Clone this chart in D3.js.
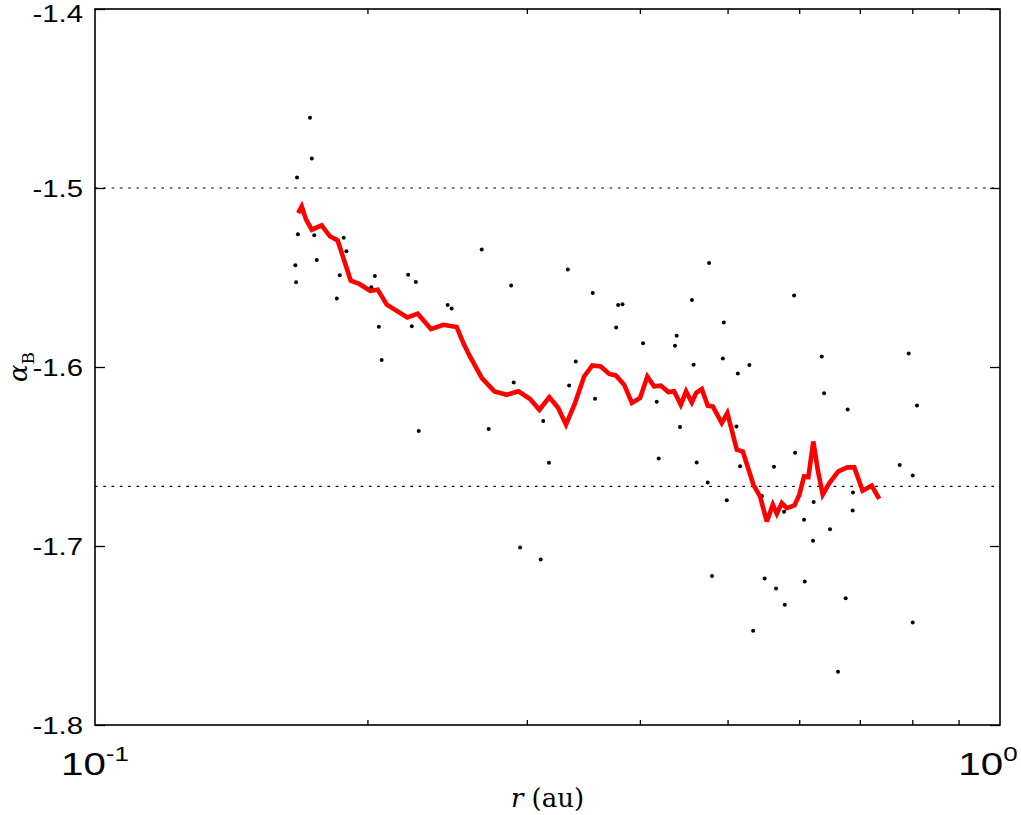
<!DOCTYPE html>
<html>
<head>
<meta charset="utf-8">
<script src="https://cdn.jsdelivr.net/npm/d3@7"></script>
<style>
  html, body { margin: 0; padding: 0; background: #fff; }
  svg { display: block; }
</style>
</head>
<body>
<svg id="chart" width="1021" height="815"></svg>
<script>
// ---- data ----
// scattered individual estimates (r in au, alpha_B)
const rPoints = [0.1728,0.1736,0.1672,0.1676,0.1747,0.1883,0.1896,0.1665,0.1758,0.1668,
  0.1864,0.2038,0.2020,0.2218,0.2262,0.1850,0.2059,0.2239,0.2453,0.2478,
  0.2675,0.2883,0.3330,0.2074,0.2279,0.2723,0.2902,0.3128,0.3174,0.3341,
  0.2949,0.3108,0.3548,0.3785,0.3827,0.3766,0.4033,0.4770,0.4567,0.4952,
  0.4393,0.4374,0.3398,0.3569,0.4586,0.4940,0.5132,0.5285,0.5922,0.4175,
  0.4430,0.5114,0.4196,0.5937,0.6354,0.7927,0.6391,0.6787,0.8096,0.4622,
  0.5162,0.4754,0.4990,0.5627,0.7748,0.8008,0.5457,0.5773,0.6074,0.6225,
  0.6879,0.6874,0.6489,0.6214,0.4806,0.5495,0.6085,0.5656,0.6753,0.5783,
  0.5336,0.8008,0.6622];
const alphaPoints = [-1.4607,-1.4835,-1.4941,-1.5259,-1.5264,-1.5278,-1.5354,-1.5432,-1.5402,-1.5527,
  -1.5488,-1.5492,-1.5555,-1.5484,-1.5525,-1.5617,-1.5775,-1.5773,-1.5654,-1.5673,
  -1.5343,-1.5544,-1.5455,-1.5961,-1.6358,-1.6346,-1.6086,-1.6302,-1.6535,-1.6104,
  -1.7009,-1.7075,-1.5587,-1.5654,-1.5650,-1.5780,-1.5868,-1.5419,-1.5626,-1.5751,
  -1.5825,-1.5881,-1.5969,-1.6177,-1.5987,-1.5952,-1.6037,-1.5989,-1.5600,-1.6194,
  -1.6335,-1.6332,-1.6511,-1.6479,-1.5942,-1.5924,-1.6147,-1.6237,-1.6215,-1.6533,
  -1.6555,-1.6645,-1.6745,-1.6557,-1.6547,-1.6606,-1.6721,-1.6808,-1.6853,-1.6754,
  -1.6701,-1.6801,-1.6907,-1.6970,-1.7168,-1.7181,-1.7198,-1.7237,-1.7292,-1.7328,
  -1.7473,-1.7428,-1.7702];

// running average curve
const rSmooth = [0.1677,0.1692,0.1711,0.1736,0.1780,0.1818,0.1854,0.1917,0.1959,0.2014,
  0.2053,0.2101,0.2214,0.2273,0.2351,0.2426,0.2510,0.2557,0.2596,0.2675,
  0.2763,0.2851,0.2937,0.3025,0.3098,0.3177,0.3250,0.3315,0.3392,0.3471,
  0.3544,0.3621,0.3701,0.3763,0.3843,0.3920,0.4002,0.4077,0.4147,0.4219,
  0.4301,0.4364,0.4439,0.4499,0.4565,0.4615,0.4683,0.4754,0.4815,0.4926,
  0.4997,0.5119,0.5198,0.5340,0.5431,0.5525,0.5610,0.5667,0.5740,0.5813,
  0.5927,0.6002,0.6074,0.6141,0.6219,0.6289,0.6370,0.6478,0.6628,0.6780,
  0.6902,0.7051,0.7214,0.7355];
const alphaSmooth = [-1.5140,-1.5103,-1.5177,-1.5233,-1.5209,-1.5270,-1.5293,-1.5518,-1.5536,-1.5574,
  -1.5568,-1.5652,-1.5723,-1.5702,-1.5788,-1.5764,-1.5777,-1.5875,-1.5941,-1.6061,
  -1.6136,-1.6155,-1.6136,-1.6179,-1.6239,-1.6168,-1.6229,-1.6322,-1.6201,-1.6053,
  -1.5991,-1.5997,-1.6039,-1.6047,-1.6099,-1.6201,-1.6173,-1.6053,-1.6108,-1.6104,
  -1.6140,-1.6136,-1.6211,-1.6136,-1.6198,-1.6145,-1.6123,-1.6216,-1.6220,-1.6313,
  -1.6257,-1.6462,-1.6472,-1.6658,-1.6723,-1.6863,-1.6769,-1.6820,-1.6760,-1.6788,
  -1.6773,-1.6713,-1.6611,-1.6615,-1.6416,-1.6574,-1.6713,-1.6648,-1.6583,-1.6561,
  -1.6561,-1.6691,-1.6663,-1.6737];

// reference levels (dotted lines)
const refLevels = [-1.5, -5/3];

// tick values
const yTicks = [-1.8, -1.7, -1.6, -1.5, -1.4];
const xMinorTicks = [0.2, 0.3, 0.4, 0.5, 0.6, 0.7, 0.8, 0.9];
const xMajorTicks = [0.1, 1];
const xMajorExp = ["-1", "0"];

// ---- layout ----
const L = 95, R = 1000, T = 9, B = 725;
const svg = d3.select("#chart");
const x = d3.scaleLog().domain([0.1, 1]).range([L, R]);
const y = d3.scaleLinear().domain([-1.8, -1.4]).range([B, T]);

// reference dotted lines
svg.selectAll("line.ref").data(refLevels).enter().append("line")
  .attr("class", "ref")
  .attr("x1", L).attr("x2", R)
  .attr("y1", d => y(d)).attr("y2", d => y(d))
  .attr("stroke", "#000").attr("stroke-width", 1.1)
  .attr("stroke-dasharray", "2.6,5.7");

// scatter points
const pts = rPoints.map((r, i) => ({ r, a: alphaPoints[i] }));
svg.append("g").selectAll("circle").data(pts).enter().append("circle")
  .attr("cx", d => x(d.r)).attr("cy", d => y(d.a))
  .attr("r", 2).attr("fill", "#000");

// smooth curve
const curve = rSmooth.map((r, i) => ({ r, a: alphaSmooth[i] }));
svg.append("path").datum(curve)
  .attr("d", d3.line().x(d => x(d.r)).y(d => y(d.a)))
  .attr("fill", "none").attr("stroke", "#ff0000")
  .attr("stroke-width", 4.6).attr("stroke-linejoin", "miter").attr("stroke-miterlimit", 3);

// axes (ticks inward)
function styleAxis(g) {
  g.select(".domain").remove();
  g.selectAll(".tick line").attr("stroke", "#000").attr("stroke-width", 1.3);
}
svg.append("g").attr("transform", `translate(0,${B})`)
  .call(d3.axisBottom(x).tickValues(xMinorTicks).tickSize(-5).tickFormat(""))
  .call(styleAxis);
svg.append("g").attr("transform", `translate(0,${T})`)
  .call(d3.axisTop(x).tickValues(xMinorTicks).tickSize(-5).tickFormat(""))
  .call(styleAxis);
svg.append("g").attr("transform", `translate(${L},0)`)
  .call(d3.axisLeft(y).tickValues(yTicks).tickSize(-10).tickFormat(""))
  .call(styleAxis);
svg.append("g").attr("transform", `translate(${R},0)`)
  .call(d3.axisRight(y).tickValues(yTicks).tickSize(-10).tickFormat(""))
  .call(styleAxis);

// frame
svg.append("rect").attr("x", L).attr("y", T).attr("width", R - L).attr("height", B - T)
  .attr("fill", "none").attr("stroke", "#000").attr("stroke-width", 1.6);

// y tick labels
svg.append("g").selectAll("text").data(yTicks).enter().append("text")
  .attr("transform", d => `translate(83,${Math.max(y(d) + 8.5, 22)}) scale(1.25,1)`)
  .attr("text-anchor", "end")
  .attr("font-family", "Liberation Sans, Arial, sans-serif")
  .attr("font-size", 23.5)
  .attr("fill", "#000")
  .text(d => d.toFixed(1));

// x tick labels 10^-1, 10^0
const xl = svg.append("g").selectAll("g").data(xMajorTicks).enter().append("g")
  .attr("transform", (d, i) => `translate(${x(d) - (i === 1 ? 12 : 0)},775) scale(1.3,1)`);
xl.append("text")
  .attr("text-anchor", "middle")
  .attr("font-family", "Liberation Sans, Arial, sans-serif")
  .attr("font-size", 31)
  .attr("fill", "#000")
  .each(function (d, i) {
    const t = d3.select(this);
    t.append("tspan").text("10");
    t.append("tspan").attr("dy", -14).attr("font-size", 20).text(xMajorExp[i]);
  });

// x axis title: r (au)
const xt = svg.append("text")
  .attr("x", (L + R) / 2).attr("y", 807)
  .attr("text-anchor", "middle")
  .attr("font-family", "DejaVu Serif, Liberation Serif, serif")
  .attr("font-size", 26)
  .attr("fill", "#000");
xt.append("tspan").attr("font-style", "italic").text("r");
xt.append("tspan").text(" (au)");

// y axis title: alpha_B
const yt = svg.append("text")
  .attr("transform", `translate(27,${(T + B) / 2}) rotate(-90)`)
  .attr("text-anchor", "middle")
  .attr("font-family", "DejaVu Serif, Liberation Serif, serif")
  .attr("font-size", 26)
  .attr("fill", "#000");
yt.append("tspan").attr("font-style", "italic").text("α");
yt.append("tspan").attr("dy", 7).attr("font-size", 17).text("B");
</script>
</body>
</html>
